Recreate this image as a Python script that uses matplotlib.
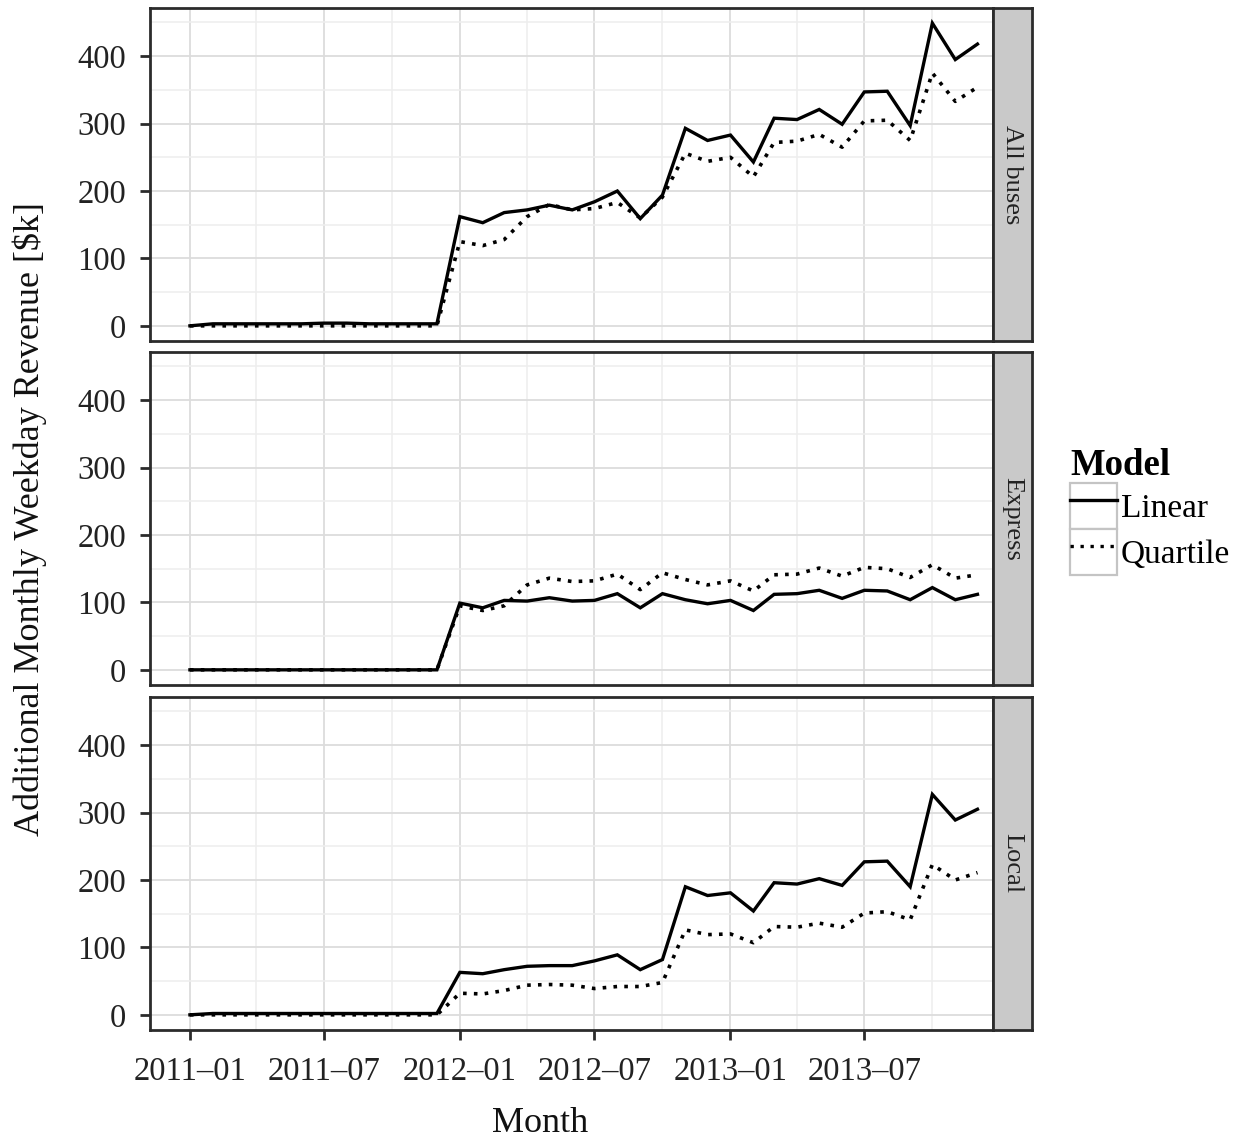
import matplotlib
matplotlib.use("Agg")
import matplotlib.pyplot as plt
import matplotlib.dates as mdates
from matplotlib.legend_handler import HandlerLine2D
from matplotlib.patches import Rectangle
from matplotlib.lines import Line2D
import pandas as pd

plt.rcParams['font.family'] = ['Liberation Serif', 'DejaVu Serif']

# monthly values, 2011-01 .. 2013-12 ($k)
months = pd.date_range('2011-01-01', periods=36, freq='MS')

all_linear = [0, 3, 3, 3, 3, 3, 4, 4, 3, 3, 3, 3,
              162, 153, 168, 172, 179, 172, 184, 200, 159, 194, 293, 275,
              283, 243, 308, 306, 321, 299, 347, 348, 297, 449, 395, 418]
all_quartile = [0, 0, 0, 0, 0, 0, 0, 0, 0, 0, 0, 0,
                125, 119, 128, 162, 180, 172, 174, 183, 160, 191, 256, 244,
                250, 221, 272, 274, 284, 265, 304, 305, 275, 375, 333, 354]
express_linear = [0, 0, 0, 0, 0, 0, 0, 0, 0, 0, 0, 0,
                  99, 92, 103, 102, 107, 102, 103, 113, 92, 113, 104, 98,
                  103, 88, 112, 113, 118, 106, 118, 117, 104, 122, 104, 112]
express_quartile = [0, 0, 0, 0, 0, 0, 0, 0, 0, 0, 0, 0,
                    95, 88, 95, 126, 136, 131, 132, 142, 119, 144, 134, 126,
                    132, 117, 141, 142, 151, 139, 152, 150, 137, 156, 136, 141]
local_linear = [0, 2, 2, 2, 2, 2, 2, 2, 2, 2, 2, 2,
                63, 61, 67, 72, 73, 73, 80, 89, 67, 82, 190, 177,
                181, 154, 196, 194, 202, 192, 227, 228, 190, 327, 289, 305]
local_quartile = [0, 0, 0, 0, 0, 0, 0, 0, 0, 0, 0, 0,
                  32, 31, 36, 44, 45, 44, 39, 42, 42, 48, 126, 119,
                  120, 107, 131, 130, 136, 130, 151, 153, 141, 223, 200, 211]

panels = ['All buses', 'Express', 'Local']
linear = [all_linear, express_linear, local_linear]
quartile = [all_quartile, express_quartile, local_quartile]
yticks = [0, 100, 200, 300, 400]

W, H = 1238, 1139
fig = plt.figure(figsize=(W / 100, H / 100), dpi=100)

dark = '#2b2b2b'
tops = [8, 352, 697]
ph = 333
x0, x1, sw = 150, 993, 39

xlo = months[0] - pd.Timedelta(days=54)
xhi = months[-1] + pd.Timedelta(days=21)
dots = (0, (1, 2.0))

for i, name in enumerate(panels):
    top = tops[i]
    ax = fig.add_axes([x0 / W, 1 - (top + ph) / H, (x1 - x0) / W, ph / H])
    ax.plot(months, linear[i], color='black', lw=2.4, solid_joinstyle='miter')
    ax.plot(months, quartile[i], color='black', lw=2.6, linestyle=dots)
    ax.set_xlim(xlo, xhi)
    ax.set_ylim(-22.5, 471.5)
    ax.set_yticks(yticks)
    ax.set_yticks([50, 150, 250, 350, 450], minor=True)
    ax.xaxis.set_major_locator(mdates.MonthLocator(bymonth=[1, 7]))
    ax.xaxis.set_minor_locator(mdates.MonthLocator(bymonth=[4, 10]))
    ax.xaxis.set_major_formatter(mdates.DateFormatter('%Y\u2013%m'))
    ax.grid(which='major', color='#dcdcdc', lw=1.3)
    ax.grid(which='minor', color='#eeeeee', lw=1.1)
    ax.set_axisbelow(True)
    for s in ax.spines.values():
        s.set_color(dark)
        s.set_linewidth(2)
    ax.tick_params(which='major', direction='out', length=7, width=2,
                   color=dark, labelsize=23.5, labelcolor='#222222', pad=10)
    ax.tick_params(axis='x', pad=12)
    ax.tick_params(which='minor', length=0)
    if i < 2:
        ax.tick_params(axis='x', labelbottom=False, length=0)

    sax = fig.add_axes([x1 / W, 1 - (top + ph) / H, sw / W, ph / H])
    sax.set_facecolor('#c9c9c9')
    sax.set_xticks([])
    sax.set_yticks([])
    for s in sax.spines.values():
        s.set_color(dark)
        s.set_linewidth(2)
    sax.text(0.5, 0.5, name, rotation=-90, ha='center', va='center',
             fontsize=19, color='#222222', transform=sax.transAxes)

fig.text(30 / W, 1 - 519 / H, 'Additional Monthly Weekday Revenue [$k]',
         rotation=90, ha='center', va='center', fontsize=26, color='#111111')
fig.text(540 / W, 1 - 1124 / H, 'Month', ha='center', va='center',
         fontsize=26, color='#111111')


class BoxedLine(HandlerLine2D):
    # legend key: grey box with the line inset a little
    def create_artists(self, legend, orig_handle, xdescent, ydescent,
                       width, height, fontsize, trans):
        arts = super().create_artists(legend, orig_handle, xdescent, ydescent,
                                      width, height, fontsize, trans)
        inset = width * 0.12
        for a in arts:
            xd = a.get_xdata()
            if len(xd) == 2:
                a.set_xdata([xd[0] + inset, xd[1] - inset])
        box = Rectangle((-xdescent, -ydescent), width, height, facecolor='white',
                        edgecolor='#c4c4c4', lw=1.6, transform=trans)
        return [box] + arts


handles = [Line2D([], [], color='black', lw=2.4),
           Line2D([], [], color='black', lw=2.4, linestyle=dots)]
leg = fig.legend(handles, ['Linear', 'Quartile'], title='Model',
                 loc='upper left', bbox_to_anchor=(1070 / W, 1 - 448 / H),
                 frameon=False, fontsize=24, handlelength=1.4, handleheight=1.75,
                 labelspacing=0, handletextpad=0.12, borderaxespad=0,
                 borderpad=0, alignment='left',
                 handler_map={Line2D: BoxedLine()})
leg.get_title().set_fontsize(26.5)
leg.get_title().set_fontweight('bold')

fig.savefig('out.png', dpi=100)
